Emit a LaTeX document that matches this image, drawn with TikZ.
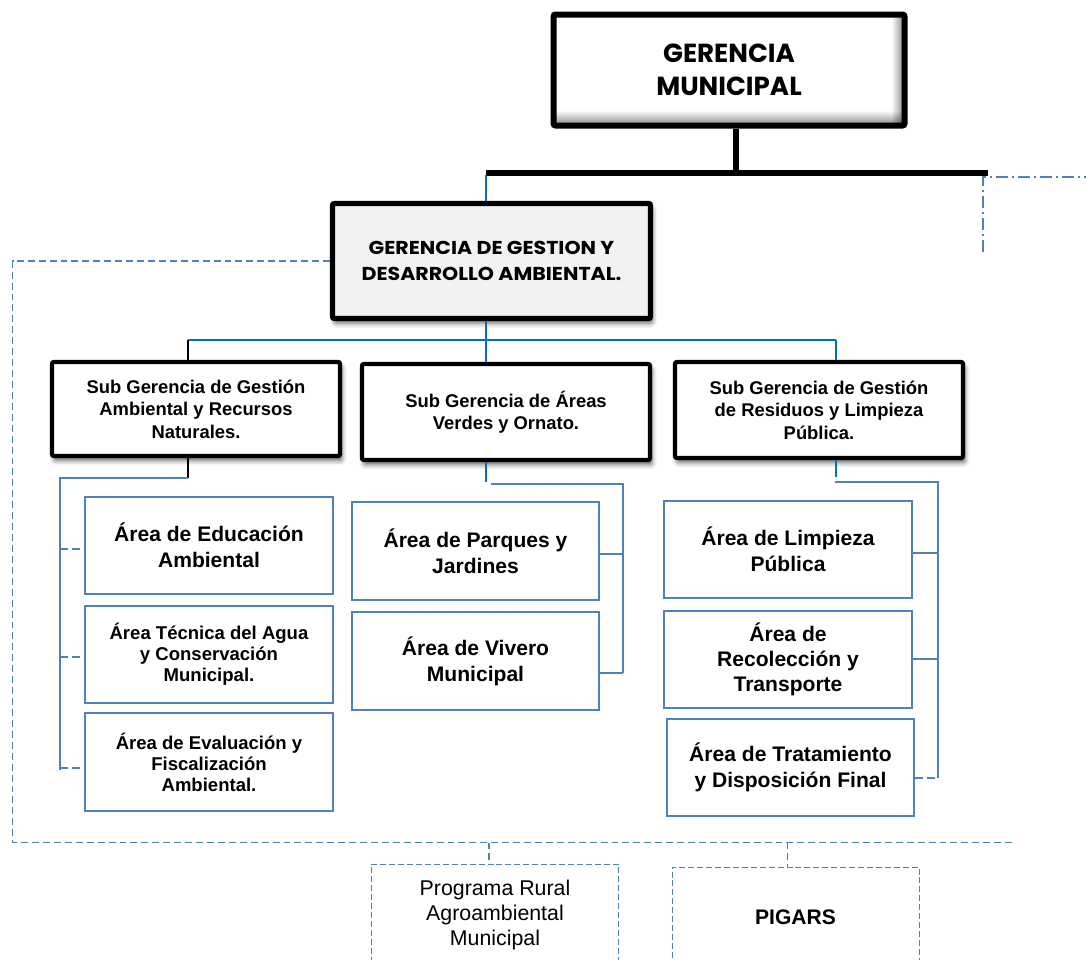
\documentclass[tikz,border=0pt]{standalone}
\usepackage{fontspec}
\setmainfont{Liberation Sans}
\newfontfamily\geofont{Poppins}
\newfontfamily\geowide[FakeStretch=1.1]{Poppins}
\usetikzlibrary{shadows.blur,fadings,calc}
\definecolor{areablue}{RGB}{79,129,189}
\definecolor{linkblue}{RGB}{0,112,192}
\definecolor{panelgray}{RGB}{242,242,242}

\begin{document}
\begin{tikzpicture}[x=0.75pt,y=-0.75pt,
  % boxes
  softshadow/.style={blur shadow={shadow xshift=1.5pt,shadow yshift=-3.5pt,shadow blur radius=3.5pt,shadow opacity=60}},
  topbox/.style={draw=black,line width=4pt,rounded corners=1.5pt,fill=white,align=center,inner sep=0pt},
  subbox/.style={draw=black,line width=3.2pt,rounded corners=1.5pt,fill=white,align=center,inner sep=0pt,
    minimum width=216pt,softshadow,font=\bfseries\fontsize{13.8}{16.8}\selectfont},
  areabox/.style={draw=areablue,line width=1.1pt,fill=white,align=center,inner sep=0pt,
    minimum width=186pt,minimum height=73pt,font=\bfseries\fontsize{15.8}{19.5}\selectfont},
  areasmall/.style={areabox,font=\bfseries\fontsize{13.9}{15.8}\selectfont},
  progbox/.style={draw=areablue,line width=0.7pt,dash pattern=on 4.5pt off 2.2pt,fill=white,align=center,
    inner sep=0pt,minimum width=185pt},
  % connectors
  trunk/.style={line width=4.5pt,black},
  link/.style={line width=1.5pt,linkblue},
  branch/.style={line width=1.3pt,areablue},
  branchdash/.style={branch,dash pattern=on 6pt off 3pt},
  outerdash/.style={line width=1.4pt,areablue,dash pattern=on 5.2pt off 3pt},
  vacantdash/.style={line width=1.3pt,areablue,dash pattern=on 9pt off 3pt on 1.5pt off 3pt},
  thinblack/.style={line width=0.9pt,black}
]
\useasboundingbox (0,0) rectangle (1086,960);
\clip (0,0) rectangle (1086,960);

% ---- top management ----
\node[topbox,line width=4.5pt,minimum width=263.25pt,minimum height=83.25pt,
      font=\geofont\bfseries\fontsize{19.6}{24.75}\selectfont] (gm) at (729,70) {GERENCIA\\MUNICIPAL};
% bevel along the inner bottom and right edges
\fill[black,opacity=.45,path fading=north] ($(gm.south west)+(4,-18)$) rectangle ($(gm.south east)+(-4,-4)$);
\fill[black,opacity=.45,path fading=west] ($(gm.north east)+(-16,4)$) rectangle ($(gm.south east)+(-4,-4)$);

\coordinate (busL) at (486,172.5);
\coordinate (busM) at (736,172.5);
\coordinate (busR) at (988,172.5);
\draw[trunk] (gm.south -| busM) -- (busM);
\draw[trunk] (busL) -- (busR);

% vacant position on the right
\coordinate (vacant) at (983,252);
\coordinate (vacantR) at (1090,177);
\draw[vacantdash] (vacant) |- (vacantR);

% ---- environmental management ----
\node[topbox,fill=panelgray,minimum width=238.5pt,minimum height=86.25pt,softshadow,
      font=\geowide\bfseries\fontsize{14}{19.5}\selectfont] (gda) at (491.5,261)
      {GERENCIA DE GESTION Y\\DESARROLLO AMBIENTAL.};
\draw[link] ($(busL)+(0,2)$) -- (gda.north -| busL);

% ---- sub-managements ----
\node[subbox,minimum height=70.5pt] (sg1) at (196,409)
  {Sub Gerencia de Gestión\\Ambiental y Recursos\\Naturales.};
\node[subbox,minimum height=72pt] (sg2) at (506,412)
  {Sub Gerencia de Áreas\\Verdes y Ornato.};
\node[subbox,minimum height=72pt] (sg3) at (819,410)
  {Sub Gerencia de Gestión\\de Residuos y Limpieza\\Pública.};

\coordinate (sgbusL) at (188,339.5);
\coordinate (sgbusM) at (486,339.5);
\coordinate (sgbusR) at (836,339.5);
\draw[link] (gda.south -| sgbusM) -- (sgbusM);
\draw[link] (sgbusL) -- (sgbusR);
\draw[thinblack] (sgbusL) -- (sgbusL |- sg1.north);
\draw[link] (sgbusM) -- (sgbusM |- sg2.north);
\draw[link] (sgbusR) -- (sgbusR |- sg3.north);

% ---- areas under sub-management 1 ----
\node[areabox] (a1) at (209,545.5) {Área de Educación\\Ambiental};
\node[areasmall] (a2) at (209,654.5) {Área Técnica del Agua\\y Conservación\\Municipal.};
\node[areasmall,minimum height=73.5pt] (a3) at (209,762) {Área de Evaluación y\\Fiscalización\\Ambiental.};

\coordinate (aTop) at (188,478);
\coordinate (aCorner) at (60,478);
\coordinate (aEnd) at (60,770);
\draw[thinblack] (sg1.south -| aTop) -- (aTop);
\draw[branch] (aTop) -- (aCorner) -- (aEnd);
\draw[branchdash] (aCorner |- 0,549) -- (a1.west |- 0,549);
\draw[branchdash] (aCorner |- 0,657) -- (a2.west |- 0,657);
\draw[branchdash] (aEnd |- 0,768) -- (a3.west |- 0,768);

% ---- areas under sub-management 2 ----
\node[areabox,minimum width=185.25pt,minimum height=73.5pt] (b1) at (475.5,551) {Área de Parques y\\Jardines};
\node[areabox,minimum width=185.25pt,minimum height=73.5pt] (b2) at (475.5,661) {Área de Vivero\\Municipal};

\coordinate (bDrop) at (486,482);
\coordinate (bTop) at (491,484);
\coordinate (bCorner) at (623,484);
\coordinate (bEnd) at (623,673);
\draw[link] (sg2.south -| bDrop) -- (bDrop);
\draw[branch] (bTop) -- (bCorner) -- (bEnd);
\draw[branch] (b1.east |- 0,554) -- (bCorner |- 0,554);
\draw[branch] (b2.east |- bEnd) -- (bEnd);

% ---- areas under sub-management 3 ----
\node[areabox] (c1) at (788,549.5) {Área de Limpieza\\Pública};
\node[areabox,font=\bfseries\fontsize{15.8}{18.8}\selectfont] (c2) at (788,659.5) {Área de\\Recolección y\\Transporte};
\node[areabox,minimum width=185.25pt] (c3) at (790.5,767.5) {Área de Tratamiento\\y Disposición Final};

\coordinate (cDrop) at (836,477);
\coordinate (cTop) at (835,482);
\coordinate (cCorner) at (938,482);
\coordinate (cEnd) at (938,778);
\draw[link] (sg3.south -| cDrop) -- (cDrop);
\draw[branch] (cTop) -- (cCorner) -- (cEnd);
\draw[branch] (c1.east |- 0,553) -- (cCorner |- 0,553);
\draw[branch] (c2.east |- 0,659) -- (cCorner |- 0,659);
\draw[branchdash] (c3.east |- cEnd) -- (cEnd);

% ---- programmes linked to the environmental management ----
\node[progbox,minimum height=76.5pt,font=\fontsize{16}{18.5}\selectfont] (p1) at (495,915)
  {Programa Rural\\Agroambiental\\Municipal};
\node[progbox,minimum width=185.25pt,minimum height=75pt,font=\bfseries\fontsize{15.8}{18}\selectfont] (p2) at (795.5,917)
  {PIGARS};

\coordinate (oL) at (12.5,259);
\coordinate (oB) at (12.5,842.5);
\coordinate (oR) at (1013,842.5);
\draw[outerdash] (gda.west) -| (oB) -- (oR);
\draw[outerdash] ($(p1.north |- oB)+(-6,0)$) -- ($(p1.north)+(-6,0)$);
\draw[outerdash] ($(p2.north |- oB)+(-8,0)$) -- ($(p2.north)+(-8,0)$);
\end{tikzpicture}
\end{document}
